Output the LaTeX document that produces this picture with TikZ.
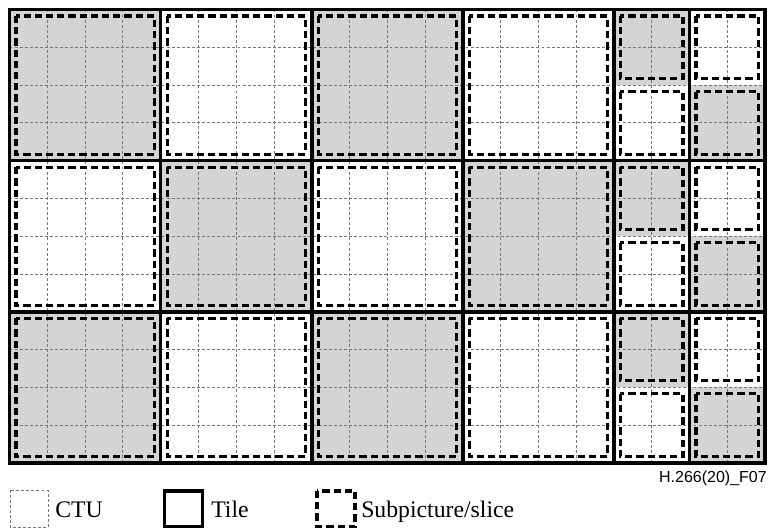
\documentclass[tikz,border=0pt]{standalone}
\usepackage{fontspec}
\setmainfont{Liberation Serif}
\newfontfamily\labelsans{Liberation Sans}
\definecolor{subgray}{RGB}{212,212,212}
\definecolor{ctugray}{RGB}{120,120,120}
\tikzset{
  ctuline/.style={draw=ctugray, line width=0.6pt, dash pattern=on 2.2pt off 1.6pt},
  tileline/.style={draw=black, line width=2.7pt},
  subline/.style={draw=black, line width=2.4pt, dash pattern=on 5.4pt off 3pt},
  legendtext/.style={anchor=base west, inner sep=0pt, font=\fontsize{17.8}{21}\selectfont},
}
\begin{document}
\begin{tikzpicture}[x=0.75pt,y=-0.75pt]
\useasboundingbox (0,0) rectangle (769,530);
\def\ox{9.5}
\def\oy{9.5}
\def\s{37.78}
\def\ins{6.5}
% shading of the large tiles
\foreach \i in {0,...,3}{
  \foreach \j in {0,1,2}{
    \pgfmathsetmacro\xa{\ox+4*\s*\i}
    \pgfmathsetmacro\ya{\oy+4*\s*\j}
    \pgfmathsetmacro\xb{\xa+4*\s}
    \pgfmathsetmacro\yb{\ya+4*\s}
    \pgfmathtruncatemacro\g{mod(\i+\j,2)}
    \ifnum\g=0 \fill[subgray] (\xa,\ya) rectangle (\xb,\yb); \fi
  }
}
% shading of the narrow tiles (two subpictures each)
\foreach \c in {0,1}{
  \foreach \j in {0,1,2}{
    \foreach \k in {0,1}{
      \pgfmathsetmacro\xa{\ox+16*\s+2*\s*\c}
      \pgfmathsetmacro\ya{\oy+4*\s*\j+2*\s*\k}
      \pgfmathsetmacro\xb{\xa+2*\s}
      \pgfmathsetmacro\yb{\ya+2*\s}
      \pgfmathtruncatemacro\g{mod(\c+\k,2)}
      \ifnum\g=0 \fill[subgray] (\xa,\ya) rectangle (\xb,\yb); \fi
    }
  }
}
% CTU grid
\foreach \k in {1,...,19}{
  \pgfmathsetmacro\xa{\ox+\s*\k}
  \pgfmathsetmacro\yb{\oy+12*\s}
  \draw[ctuline] (\xa,\oy) -- (\xa,\yb);
}
\foreach \k in {1,...,11}{
  \pgfmathsetmacro\ya{\oy+\s*\k}
  \pgfmathsetmacro\xb{\ox+20*\s}
  \draw[ctuline] (\ox,\ya) -- (\xb,\ya);
}
% subpictures of large tiles
\foreach \i in {0,...,3}{
  \foreach \j in {0,1,2}{
    \pgfmathsetmacro\xa{\ox+4*\s*\i+\ins}
    \pgfmathsetmacro\ya{\oy+4*\s*\j+\ins}
    \pgfmathsetmacro\xb{\ox+4*\s*(\i+1)-\ins}
    \pgfmathsetmacro\yb{\oy+4*\s*(\j+1)-\ins}
    \draw[subline] (\xa,\ya) rectangle (\xb,\yb);
  }
}
% subpictures of narrow tiles
\foreach \c in {0,1}{
  \foreach \j in {0,1,2}{
    \foreach \k in {0,1}{
      \pgfmathsetmacro\xa{\ox+16*\s+2*\s*\c+\ins}
      \pgfmathsetmacro\ya{\oy+4*\s*\j+2*\s*\k+\ins}
      \pgfmathsetmacro\xb{\xa+2*\s-2*\ins}
      \pgfmathsetmacro\yb{\ya+2*\s-2*\ins}
      \draw[subline] (\xa,\ya) rectangle (\xb,\yb);
    }
  }
}
% tile boundaries
\foreach \k in {4,8,12,16,18}{
  \pgfmathsetmacro\xa{\ox+\s*\k}
  \pgfmathsetmacro\yb{\oy+12*\s}
  \draw[tileline] (\xa,\oy) -- (\xa,\yb);
}
\foreach \k in {4,8}{
  \pgfmathsetmacro\ya{\oy+\s*\k}
  \pgfmathsetmacro\xb{\ox+20*\s}
  \draw[tileline] (\ox,\ya) -- (\xb,\ya);
}
\pgfmathsetmacro\xe{\ox+20*\s}
\pgfmathsetmacro\ye{\oy+12*\s}
\draw[tileline] (\ox,\oy) rectangle (\xe,\ye);
% figure id
\node[anchor=base east, inner sep=0pt, font=\labelsans\fontsize{12}{14}\selectfont] (fid) at (767,483) {H.266(20)\_F07};
% legend
\draw[ctuline] (10,490) rectangle (48,527.5);
\node[legendtext] (lctu) at (55,518) {CTU};
\draw[tileline] (164.5,491) rectangle (202.5,526.5);
\node[legendtext] (ltile) at (211,518) {Tile};
\draw[subline] (317,491) rectangle (355,526.5);
\node[legendtext] (lsub) at (361,518) {Subpicture/slice};
\end{tikzpicture}
\end{document}
